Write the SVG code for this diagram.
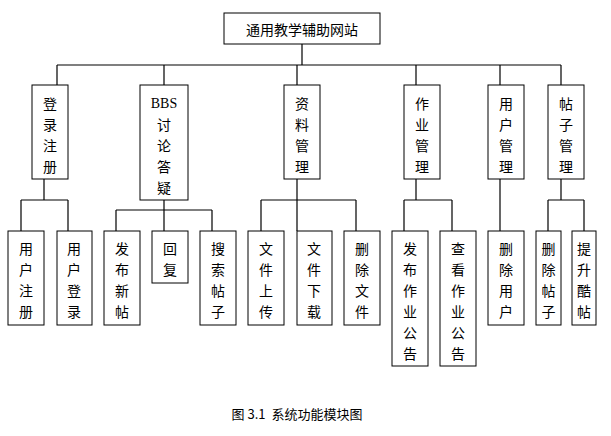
<svg xmlns="http://www.w3.org/2000/svg" width="611" height="436" viewBox="0 0 611 436">
<style>
rect{fill:#fff;stroke:#000;stroke-width:1}
.c path{fill:none;stroke:#000;stroke-width:1.2}
text{font-family:"Noto Sans CJK SC","Liberation Sans",sans-serif;font-size:14px;fill:#000;text-anchor:middle;dominant-baseline:central}
.cap{font-size:13px}
</style>
<rect x="0" y="0" width="611" height="436" style="fill:#fff;stroke:none"/>
<g class="c">
<path d="M302 44V65M57 65H561M57 65V85M164 65V85M297 65V85M416 65V85M500 65V85M561 65V85"/>
<path d="M44 179V200M21 200H68M21 200V231M68 200V231"/>
<path d="M164 200V231M116 210H212M116 210V231M212 210V231"/>
<path d="M297 179V231M261 200H356M261 200V231M356 200V231"/>
<path d="M416 179V200M404 200H452M404 200V231M452 200V231"/>
<path d="M500 179V231"/>
<path d="M561 179V200M548 200H584M548 200V231M584 200V231"/>
</g>
<g id="root"><rect x="224" y="13" width="156" height="31"/><text x="302" y="29">通用教学辅助网站</text></g>
<g id="n1"><rect x="32" y="85" width="36" height="94"/><text x="50" y="103">登</text><text x="50" y="124">录</text><text x="50" y="145">注</text><text x="50" y="166">册</text></g>
<g id="n2"><rect x="140" y="85" width="48" height="115"/><text x="164" y="103" style="font-family:'Liberation Serif',serif">BBS</text><text x="164" y="124">讨</text><text x="164" y="145">论</text><text x="164" y="166">答</text><text x="164" y="187">疑</text></g>
<g id="n3"><rect x="284" y="85" width="36" height="94"/><text x="302" y="103">资</text><text x="302" y="124">料</text><text x="302" y="145">管</text><text x="302" y="166">理</text></g>
<g id="n4"><rect x="404" y="85" width="36" height="94"/><text x="422" y="103">作</text><text x="422" y="124">业</text><text x="422" y="145">管</text><text x="422" y="166">理</text></g>
<g id="n5"><rect x="488" y="85" width="36" height="94"/><text x="506" y="103">用</text><text x="506" y="124">户</text><text x="506" y="145">管</text><text x="506" y="166">理</text></g>
<g id="n6"><rect x="548" y="85" width="36" height="94"/><text x="566" y="103">帖</text><text x="566" y="124">子</text><text x="566" y="145">管</text><text x="566" y="166">理</text></g>
<g id="l1"><rect x="8" y="231" width="36" height="94"/><text x="26" y="248">用</text><text x="26" y="269">户</text><text x="26" y="290">注</text><text x="26" y="311">册</text></g>
<g id="l2"><rect x="57" y="231" width="35" height="94"/><text x="74" y="248">用</text><text x="74" y="269">户</text><text x="74" y="290">登</text><text x="74" y="311">录</text></g>
<g id="l3"><rect x="104" y="231" width="36" height="94"/><text x="122" y="248">发</text><text x="122" y="269">布</text><text x="122" y="290">新</text><text x="122" y="311">帖</text></g>
<g id="l4"><rect x="152" y="231" width="36" height="52"/><text x="170" y="248">回</text><text x="170" y="269">复</text></g>
<g id="l5"><rect x="200" y="231" width="36" height="94"/><text x="218" y="248">搜</text><text x="218" y="269">索</text><text x="218" y="290">帖</text><text x="218" y="311">子</text></g>
<g id="l6"><rect x="248" y="231" width="36" height="94"/><text x="266" y="248">文</text><text x="266" y="269">件</text><text x="266" y="290">上</text><text x="266" y="311">传</text></g>
<g id="l7"><rect x="297" y="231" width="35" height="94"/><text x="314" y="248">文</text><text x="314" y="269">件</text><text x="314" y="290">下</text><text x="314" y="311">载</text></g>
<g id="l8"><rect x="344" y="231" width="36" height="94"/><text x="362" y="248">删</text><text x="362" y="269">除</text><text x="362" y="290">文</text><text x="362" y="311">件</text></g>
<g id="l9"><rect x="392" y="231" width="36" height="135"/><text x="410" y="248">发</text><text x="410" y="269">布</text><text x="410" y="290">作</text><text x="410" y="311">业</text><text x="410" y="332">公</text><text x="410" y="353">告</text></g>
<g id="l10"><rect x="440" y="231" width="36" height="135"/><text x="458" y="248">查</text><text x="458" y="269">看</text><text x="458" y="290">作</text><text x="458" y="311">业</text><text x="458" y="332">公</text><text x="458" y="353">告</text></g>
<g id="l11"><rect x="488" y="231" width="36" height="94"/><text x="506" y="248">删</text><text x="506" y="269">除</text><text x="506" y="290">用</text><text x="506" y="311">户</text></g>
<g id="l12"><rect x="536" y="231" width="25" height="94"/><text x="548.5" y="248">删</text><text x="548.5" y="269">除</text><text x="548.5" y="290">帖</text><text x="548.5" y="311">子</text></g>
<g id="l13"><rect x="572" y="231" width="24" height="94"/><text x="584" y="248">提</text><text x="584" y="269">升</text><text x="584" y="290">酷</text><text x="584" y="311">帖</text></g>
<text class="cap" x="297" y="413" xml:space="preserve">图 3.1  系统功能模块图</text>
</svg>
